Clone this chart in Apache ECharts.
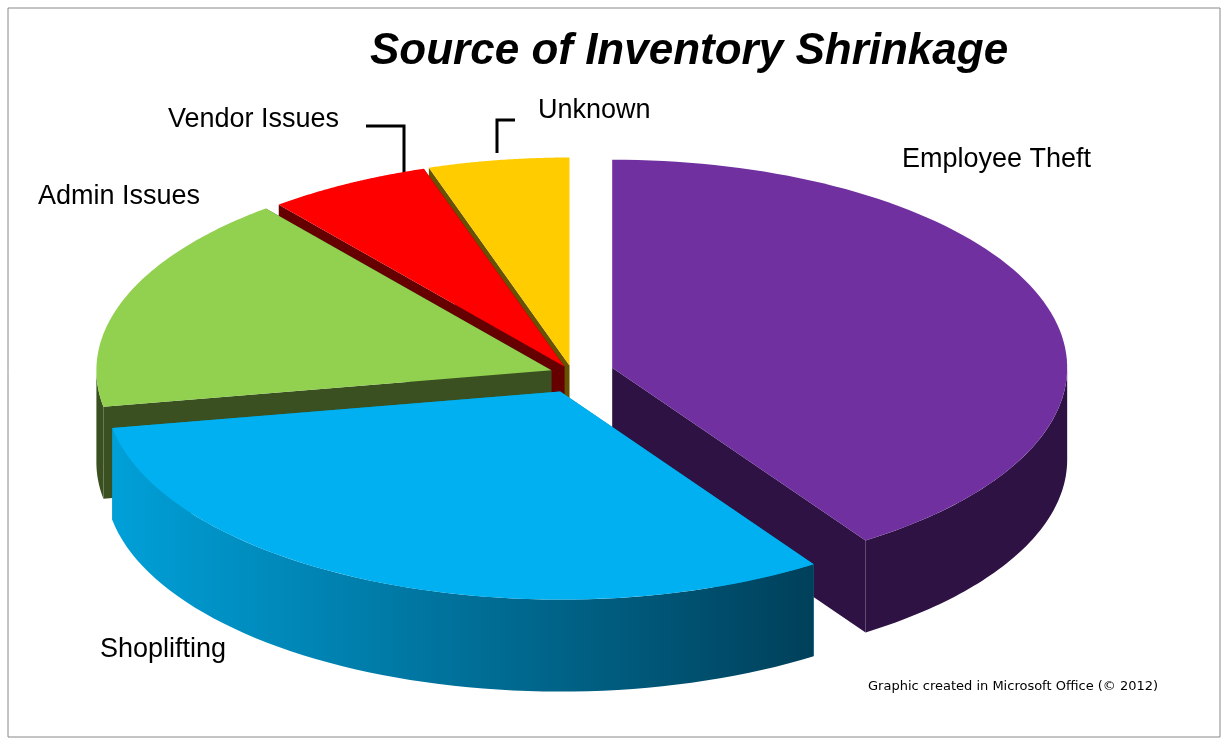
<!DOCTYPE html>
<html><head><meta charset="utf-8">
<script src="https://cdn.jsdelivr.net/npm/echarts@6/dist/echarts.min.js"></script>
<style>html,body{margin:0;padding:0;background:#fff}#c{width:1229px;height:749px}</style>
</head><body><div id="c"></div>
<script>
const categories = ['Employee Theft','Shoplifting','Admin Issues','Vendor Issues','Unknown'];
const values = [40.6, 31.6, 17, 5.8, 5];
const topColors = ['#7030A0','#00B0F0','#92D050','#FF0000','#FFCC00'];
const wallColors = ['#2E1244','#0090C0','#3A5020','#660000','#665200'];
const explode = [42, 30, 22, 16, 16];

const chart = echarts.init(document.getElementById('c'));
function renderItem(params, api){
  const cx=572, cy=375, rx=455, ry=208, depth=92;
  const total=values.reduce((a,b)=>a+b,0);
  let acc=0; const sl=[];
  values.forEach((v,i)=>{const a=acc/total*2*Math.PI; acc+=v; const b=acc/total*2*Math.PI; sl.push({i,a,b,m:(a+b)/2});});
  sl.sort((p,q)=>Math.cos(q.m)-Math.cos(p.m));
  const kids=[];
  sl.forEach(s=>{
    const ox=cx+explode[s.i]*Math.sin(s.m), oy=cy-explode[s.i]*Math.cos(s.m)*0.6;
    const P=(t,d)=>[ox+rx*Math.sin(t), oy-ry*Math.cos(t)+(d||0)];
    [s.a,s.b].forEach(t=>{
      const e=P(t);
      kids.push({type:'polygon',shape:{points:[[ox,oy],e,[e[0],e[1]+depth],[ox,oy+depth]]},style:{fill:wallColors[s.i]}});
    });
    const lo=Math.max(s.a,Math.PI/2), hi=Math.min(s.b,3*Math.PI/2);
    if(hi>lo){
      const pts=[];const n=60;
      for(let k=0;k<=n;k++){pts.push(P(lo+(hi-lo)*k/n));}
      for(let k=n;k>=0;k--){pts.push(P(lo+(hi-lo)*k/n,depth));}
      let fill=wallColors[s.i];
      if(s.i===1) fill=new echarts.graphic.LinearGradient(0,0,1,0,[{offset:0,color:'#00A0D8'},{offset:1,color:'#00405A'}]);
      kids.push({type:'polygon',shape:{points:pts},style:{fill}});
    }
    const tp=[[ox,oy]];const n=90;
    for(let k=0;k<=n;k++) tp.push(P(s.a+(s.b-s.a)*k/n));
    kids.push({type:'polygon',shape:{points:tp},style:{fill:topColors[s.i]}});
  });
  return {type:'group',children:kids};
}
const lbl=(t,x,y)=>({type:'text',left:x,top:y,style:{text:t,font:'27px "Liberation Sans", Arial',fill:'#000'}});
chart.setOption({
  animation:false,
  graphic:[
    {type:'rect',shape:{x:8,y:8,width:1212,height:729},style:{fill:'none',stroke:'#888',lineWidth:1},z:-1},
    {type:'text',left:370,top:30,style:{text:'Source of Inventory Shrinkage',font:'italic bold 44px "Liberation Sans", Arial',fill:'#000'}},
    lbl('Employee Theft',902,146),
    lbl('Shoplifting',100,636),
    lbl('Admin Issues',38,183),
    lbl('Vendor Issues',168,106),
    lbl('Unknown',538,97),
    {type:'polyline',shape:{points:[[366,126],[404,126],[404,176]]},style:{stroke:'#000',lineWidth:3,fill:'none'}},
    {type:'polyline',shape:{points:[[515,120],[497,120],[497,153]]},style:{stroke:'#000',lineWidth:3,fill:'none'}},
    {type:'text',left:868,top:680,style:{text:'Graphic created in Microsoft Office (© 2012)',font:'13px "DejaVu Sans", Calibri',fill:'#000'}}
  ],
  series:[{type:'custom',coordinateSystem:'none',data:[[0]],renderItem}]
});
</script></body></html>
